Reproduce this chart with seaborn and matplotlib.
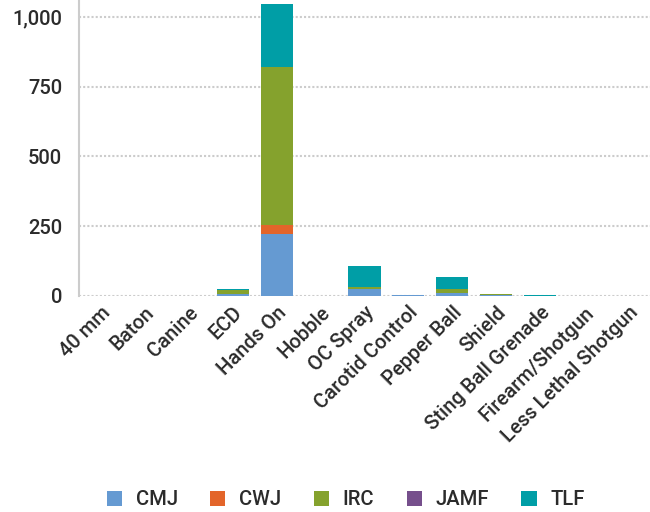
import numpy as np
import pandas as pd
import matplotlib
matplotlib.use("Agg")
import matplotlib.pyplot as plt
import seaborn as sns
from matplotlib.patches import Patch

# Datos
categorias = ["40 mm", "Baton", "Canine", "ECD", "Hands On", "Hobble", "OC Spray",
              "Carotid Control", "Pepper Ball", "Shield", "Sting Ball Grenade",
              "Firearm/Shotgun", "Less Lethal Shotgun"]
cmj = [0, 0, 0, 8, 223, 0, 24, 3, 12, 2, 0, 0, 0]
cwj = [0, 0, 0, 0, 31, 0, 0, 0, 0, 0, 0, 0, 0]
irc = [0, 0, 0, 13, 567, 0, 8, 0, 14, 5, 0, 0, 0]
jamf = [0, 0, 0, 0, 0, 0, 0, 0, 0, 0, 0, 0, 0]
tlf = [0, 0, 0, 4, 226, 0, 75, 0, 43, 0, 3, 0, 0]

series = ["CMJ", "CWJ", "IRC", "JAMF", "TLF"]
colores = ["#659ad2", "#e3652a", "#85a22d", "#764f8c", "#009ea6"]

df = pd.DataFrame({"CMJ": cmj, "CWJ": cwj, "IRC": irc, "JAMF": jamf, "TLF": tlf},
                  index=categorias)
acumulado = df.cumsum(axis=1)

sns.set_style("white")
plt.rcParams["font.family"] = ["Roboto", "DejaVu Sans"]
plt.rcParams["font.weight"] = "medium"

fig = plt.figure(figsize=(6.5, 5.12), dpi=100)
ax = fig.add_axes([0.1215, 0.422, 0.8785, 0.578])

# barras apiladas: se dibuja el acumulado de arriba hacia abajo
for s, c in reversed(list(zip(series, colores))):
    sns.barplot(x=categorias, y=acumulado[s].values, color=c, width=0.73,
                saturation=1, linewidth=0, edgecolor="none", ax=ax, zorder=3)

ax.set_ylim(0, 1061)
ax.set_xlim(-0.5, len(categorias) - 0.5)
ax.set_yticks([0, 250, 500, 750, 1000])
ax.set_yticklabels(["0", "250", "500", "750", "1,000"])
ax.yaxis.grid(True, linestyle=(0, (1, 1)), color="#cccccc", linewidth=1.5, zorder=0)
ax.set_axisbelow(True)

for lado in ["top", "right", "bottom"]:
    ax.spines[lado].set_visible(False)
ax.spines["left"].set_linestyle((0, (1, 1)))
ax.spines["left"].set_color("#cccccc")
ax.spines["left"].set_linewidth(1.5)

ax.tick_params(axis="both", length=0, labelsize=14.5, colors="#2b2b2b")
ax.tick_params(axis="y", pad=12)
ax.tick_params(axis="x", pad=5)
plt.setp(ax.get_xticklabels(), rotation=45, ha="right", rotation_mode="anchor")

handles = [Patch(facecolor=c, edgecolor="none", label=s) for s, c in zip(series, colores)]
fig.legend(handles=handles, loc="lower center", bbox_to_anchor=(0.532, -0.03), ncol=5,
           frameon=False, fontsize=14.5, handlelength=0.75, handleheight=0.75,
           columnspacing=1.6, handletextpad=0.7, labelcolor="#2b2b2b")

fig.savefig("out.png", dpi=100)
